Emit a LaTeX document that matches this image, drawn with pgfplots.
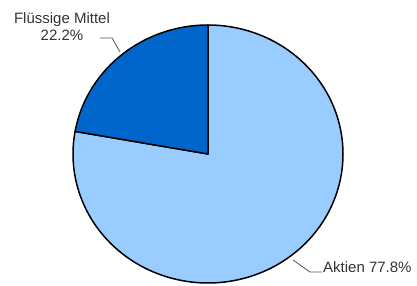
\documentclass[border=0pt]{standalone}
\usepackage{pgfplots}
\pgfplotsset{compat=1.18}
\usepackage{fontspec}
\setmainfont{Liberation Sans}
\definecolor{lightb}{HTML}{99CCFF}
\definecolor{darkb}{HTML}{0066CC}
\definecolor{txt}{HTML}{333333}
\definecolor{lead}{HTML}{555555}
% values (percent)
\def\valFluessig{22.2}
\def\valAktien{77.8}
\begin{document}
\begin{tikzpicture}
\begin{axis}[
  scale only axis, width=417pt, height=286pt,
  xmin=0, xmax=417, ymin=0, ymax=286,
  hide axis, clip=false,
]
\path[draw=none] (rel axis cs:0,0) rectangle (rel axis cs:1,1);
% Aktien wedge
\addplot[fill=lightb, draw=black, line width=1.5pt, line join=round,
  domain={90+3.6*\valFluessig}:{90+3.6*(\valFluessig+\valAktien)}, samples=200, variable=\t]
  ({208+135*cos(t)}, {132+129*sin(t)}) -- (axis cs:208,132) -- cycle;
% Fluessige Mittel wedge
\addplot[fill=darkb, draw=black, line width=1.5pt, line join=round,
  domain=90:{90+3.6*\valFluessig}, samples=80, variable=\t]
  ({208+135*cos(t)}, {132+129*sin(t)}) -- (axis cs:208,132) -- cycle;
% leader lines
\addplot[lead, line width=0.8pt, no marks] coordinates {(100,248) (112,248) (120,234)};
\addplot[lead, line width=0.8pt, no marks] coordinates {(293,26) (310,14) (322,14)};
% labels
\node[anchor=base, inner sep=0pt, text=txt, font=\fontsize{15}{17}\selectfont] at (axis cs:62,262) {Flüssige Mittel};
\node[anchor=base, inner sep=0pt, text=txt, font=\fontsize{15}{17}\selectfont] at (axis cs:62,245) {22.2\%};
\node[anchor=base west, inner sep=0pt, text=txt, font=\fontsize{15}{17}\selectfont] at (axis cs:323,13) {Aktien 77.8\%};
\end{axis}
\end{tikzpicture}
\end{document}
